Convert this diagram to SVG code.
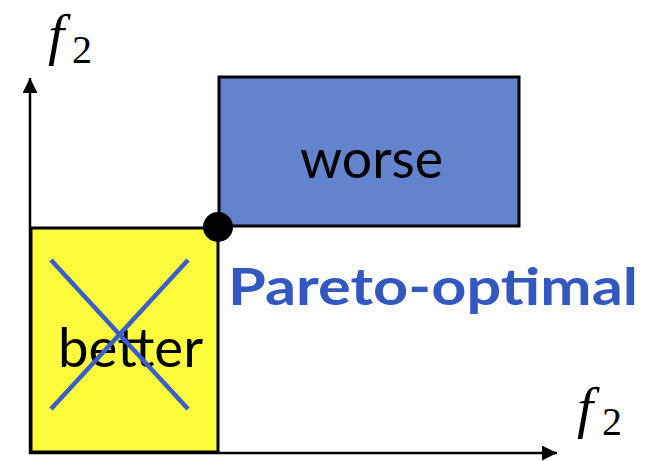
<svg xmlns="http://www.w3.org/2000/svg" width="645" height="461" viewBox="0 0 645 461">
  <style>
    .axis { stroke: #000; stroke-width: 2.5; fill: none; }
    .box { stroke: #000; stroke-width: 3; }
    .label { font-family: "Lato", "Open Sans", sans-serif; font-size: 54px; fill: #000; }
    .math-f { font-family: "Liberation Serif", "DejaVu Serif", serif; font-style: italic; font-size: 58px; fill: #000; }
    .math-sub { font-family: "Liberation Serif", "DejaVu Serif", serif; font-size: 40px; fill: #000; }
    .cross { stroke: #3a5fc8; stroke-width: 4.5; }
  </style>
  <defs>
    <marker id="arrow" viewBox="0 0 10 10" refX="10" refY="5" markerWidth="6" markerHeight="6" markerUnits="strokeWidth" orient="auto">
      <path d="M0,0 L10,5 L0,10 Z" fill="#000"/>
    </marker>
  </defs>

  <g id="better">
    <rect x="31" y="228" width="187" height="224" fill="#fcfc3c" class="box"/>
    <text x="58" y="367" textLength="145" lengthAdjust="spacingAndGlyphs" class="label">better</text>
    <line x1="51" y1="260" x2="188" y2="409" class="cross"/>
    <line x1="188" y1="260" x2="51" y2="409" class="cross"/>
  </g>

  <g id="worse">
    <rect x="219" y="77" width="300" height="149" fill="#6383cc" class="box"/>
    <text x="300" y="178" textLength="143" lengthAdjust="spacingAndGlyphs" class="label">worse</text>
  </g>

  <g id="connectors">
    <line x1="30" y1="454" x2="30" y2="78" class="axis" marker-end="url(#arrow)"/>
    <line x1="29" y1="453" x2="557" y2="453" class="axis" marker-end="url(#arrow)"/>
  </g>

  <g id="pareto">
    <circle cx="218" cy="227" r="15" fill="#000"/>
    <text x="228" y="305" textLength="410" lengthAdjust="spacingAndGlyphs" font-family="Lato, 'Open Sans', sans-serif" font-weight="bold" font-size="52" fill="#3358c0">Pareto-optimal</text>
  </g>

  <g id="axis-labels">
    <text x="48" y="54" class="math-f">f</text>
    <text x="72" y="63" class="math-sub">2</text>
    <text x="577" y="427" class="math-f">f</text>
    <text x="602" y="435" class="math-sub">2</text>
  </g>
</svg>
